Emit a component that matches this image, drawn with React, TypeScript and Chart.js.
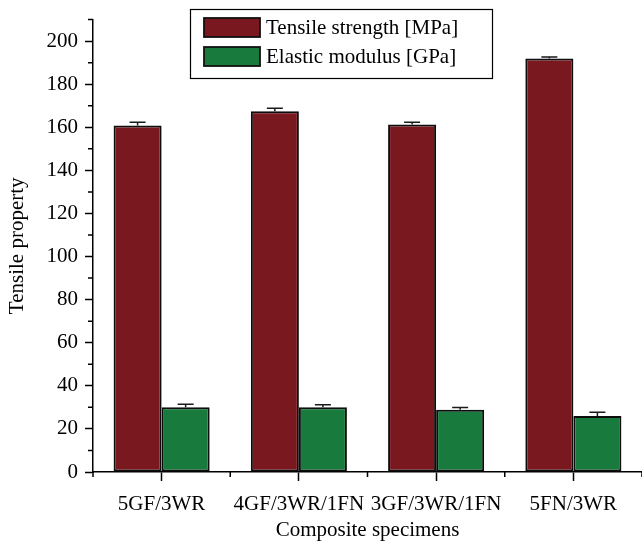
import { useEffect, useRef } from 'react';
import { Chart, registerables } from 'chart.js';

Chart.register(...registerables);

// Tensile test results for the four laminate stacking sequences
const specimens = ['5GF/3WR', '4GF/3WR/1FN', '3GF/3WR/1FN', '5FN/3WR'];
const tensileStrength = [160.8, 167.4, 161.3, 192.0];
const tensileStrengthErr = [1.5, 1.5, 1.0, 0.6];
const elasticModulus = [30.0, 30.0, 28.9, 26.0];
const elasticModulusErr = [1.4, 1.2, 1.0, 1.7];

const seriesLabels = ['Tensile strength [MPa]', 'Elastic modulus [GPa]'];
const seriesColors = ['#7a1820', '#187a3c'];

const yMax = 210;
const yStep = 10;
const yLabelStep = 20;

const FONT = "'Liberation Serif', 'Times New Roman', Times, serif";
const FONT_SIZE = 21;
const INK = '#000';

// Upper half of the ± error bar above each bar
const errorBars = {
  id: 'errorBars',
  afterDatasetsDraw(chart: any) {
    const { ctx } = chart;
    const y = chart.scales.y;
    chart.data.datasets.forEach((ds: any, i: number) => {
      const meta = chart.getDatasetMeta(i);
      meta.data.forEach((bar: any, j: number) => {
        const top = y.getPixelForValue(ds.data[j] + ds.errors[j]);
        ctx.save();
        ctx.strokeStyle = '#1a1a1a';
        ctx.lineWidth = 1.5;
        ctx.beginPath();
        ctx.moveTo(bar.x, bar.y);
        ctx.lineTo(bar.x, top);
        ctx.moveTo(bar.x - 8, top);
        ctx.lineTo(bar.x + 8, top);
        ctx.stroke();
        ctx.restore();
      });
    });
  },
};

// Short minor ticks: odd tens on y, category boundaries on x
const minorTicks = {
  id: 'minorTicks',
  afterDraw(chart: any) {
    const { ctx } = chart;
    const x = chart.scales.x;
    const y = chart.scales.y;
    ctx.save();
    ctx.strokeStyle = INK;
    ctx.lineWidth = 1.5;
    ctx.beginPath();
    y.ticks.forEach((t: any, i: number) => {
      if (t.value % yLabelStep !== 0) {
        const py = y.getPixelForTick(i);
        ctx.moveTo(y.right - 5, py);
        ctx.lineTo(y.right, py);
      }
    });
    for (let i = 0; i <= specimens.length; i++) {
      const px = x.getPixelForValue(i - 0.5);
      ctx.moveTo(px, x.top);
      ctx.lineTo(px, x.top + 5);
    }
    ctx.stroke();
    ctx.restore();
  },
};

// Framed legend sitting inside the plot area
const boxedLegend = {
  id: 'boxedLegend',
  afterDraw(chart: any) {
    const { ctx } = chart;
    const box = { x: 190.5, y: 9.5, w: 302, h: 69 };
    ctx.save();
    ctx.fillStyle = '#fff';
    ctx.fillRect(box.x, box.y, box.w, box.h);
    ctx.strokeStyle = INK;
    ctx.lineWidth = 1.2;
    ctx.strokeRect(box.x, box.y, box.w, box.h);
    ctx.font = `${FONT_SIZE}px ${FONT}`;
    ctx.textBaseline = 'middle';
    ctx.textAlign = 'left';
    chart.data.datasets.forEach((ds: any, i: number) => {
      const cy = 27.5 + i * 29;
      ctx.fillStyle = ds.backgroundColor;
      ctx.fillRect(204, cy - 9.5, 56, 19);
      ctx.strokeStyle = '#111';
      ctx.lineWidth = 1.8;
      ctx.strokeRect(204, cy - 9.5, 56, 19);
      ctx.fillStyle = INK;
      ctx.fillText(ds.label, 266, cy + 1);
    });
    ctx.restore();
  },
};

export default function App() {
  const canvasRef = useRef<HTMLCanvasElement | null>(null);

  useEffect(() => {
    if (!canvasRef.current) return;
    Chart.defaults.font.family = FONT;
    Chart.defaults.font.size = FONT_SIZE;
    Chart.defaults.color = INK;

    const chart = new Chart(canvasRef.current, {
      type: 'bar',
      data: {
        labels: specimens,
        datasets: [
          {
            label: seriesLabels[0],
            data: tensileStrength,
            errors: tensileStrengthErr,
            backgroundColor: seriesColors[0],
            borderColor: '#0d0d0d',
            borderWidth: 2,
            borderSkipped: false,
            categoryPercentage: 0.7,
            barPercentage: 1.0,
          } as any,
          {
            label: seriesLabels[1],
            data: elasticModulus,
            errors: elasticModulusErr,
            backgroundColor: seriesColors[1],
            borderColor: '#0d0d0d',
            borderWidth: 2,
            borderSkipped: false,
            categoryPercentage: 0.7,
            barPercentage: 1.0,
          } as any,
        ],
      },
      options: {
        responsive: false,
        animation: false,
        devicePixelRatio: 1,
        layout: { padding: { top: 17, left: 0, right: 0, bottom: 0 } },
        plugins: {
          legend: { display: false },
          tooltip: { enabled: false },
        },
        scales: {
          x: {
            type: 'category',
            offset: true,
            grid: {
              offset: false,
              drawOnChartArea: false,
              drawTicks: true,
              tickLength: 9,
              tickWidth: 1.5,
              tickColor: INK,
            },
            border: { display: true, color: INK, width: 1.5 },
            ticks: { padding: 11, maxRotation: 0, autoSkip: false, color: INK },
            title: {
              display: true,
              text: 'Composite specimens',
              padding: { top: 0, bottom: 1 },
              color: INK,
            },
            afterFit(scale: any) {
              scale.height = 72;
            },
          },
          y: {
            min: 0,
            max: yMax,
            grid: {
              drawOnChartArea: false,
              drawTicks: true,
              tickLength: 8,
              tickWidth: 1.5,
              tickColor: (c: any) =>
                c.tick && c.tick.value % yLabelStep === 0 ? INK : 'rgba(0,0,0,0)',
            },
            border: { display: true, color: INK, width: 1.5 },
            ticks: {
              stepSize: yStep,
              autoSkip: false,
              padding: 7,
              color: INK,
              callback: (v: any) => (Number(v) % yLabelStep === 0 ? String(v) : ''),
            },
            title: {
              display: true,
              text: 'Tensile property',
              padding: { top: 5, bottom: 0 },
              color: INK,
            },
            afterFit(scale: any) {
              scale.width = 93;
            },
          },
        },
      } as any,
      plugins: [errorBars, minorTicks, boxedLegend],
    });

    return () => chart.destroy();
  }, []);

  return (
    <div style={{ position: 'absolute', left: 0, top: 0, width: 642, height: 544, background: '#fff' }}>
      <canvas ref={canvasRef} width={642} height={544} style={{ display: 'block' }} />
    </div>
  );
}
